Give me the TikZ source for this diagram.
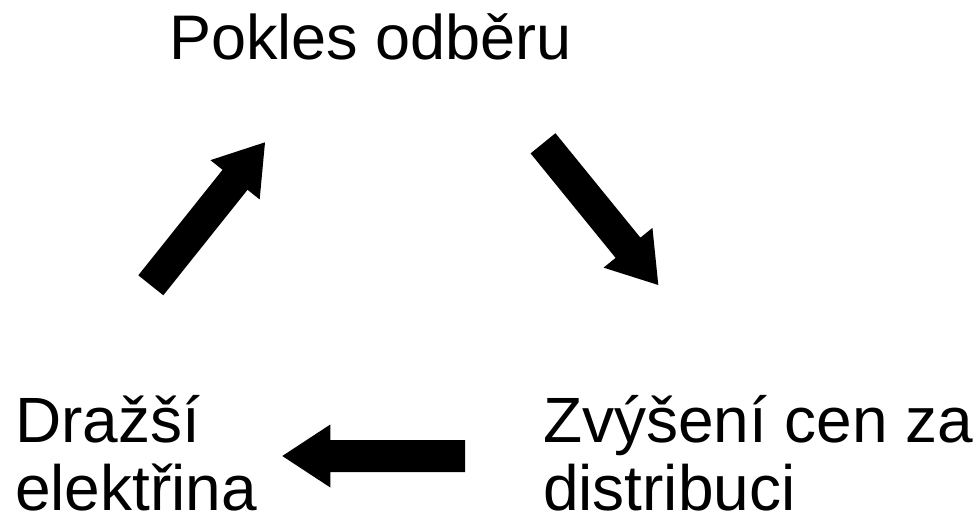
\documentclass[tikz,border=0pt]{standalone}
\usepackage{fontspec}
\setmainfont{Liberation Sans}
\usetikzlibrary{calc}
\newcommand\fatarrow[2]{%
  \path ($(#2)!48pt!(#1)$) coordinate (fatH);
  \fill[black] ($(#1)!16pt!90:(#2)$) -- ($(fatH)!16pt!90:(#2)$) -- ($(fatH)!31.5pt!90:(#2)$)
    -- (#2) -- ($(fatH)!31.5pt!-90:(#2)$) -- ($(fatH)!16pt!-90:(#2)$) -- ($(#1)!16pt!-90:(#2)$) -- cycle;
}
\tikzset{lbl/.style={inner sep=0pt, outer sep=0pt, anchor=base west, font=\fontsize{64}{68}\selectfont}}
\begin{document}
\begin{tikzpicture}[x=1pt,y=-1pt]
\useasboundingbox[fill=white] (0,0) rectangle (979,518);
\node[lbl, font=\fontsize{63}{68}\selectfont] (top) at (169,60) {Pokles odběru};
\node[lbl] (left) at (15,442) {\parbox[t]{300pt}{\baselineskip=68pt Dražší\\elektřina}};
\node[lbl] (right) at (543,442) {\parbox[t]{440pt}{\baselineskip=68pt Zvýšení cen za\\distribuci}};
\coordinate (a1s) at (150.8,285.3);
\coordinate (a1e) at (265,142.3);
\coordinate (a2s) at (543,143.3);
\coordinate (a2e) at (658.3,285);
\coordinate (a3s) at (465,456);
\coordinate (a3e) at (282.3,456);
\fatarrow{a1s}{a1e}
\fatarrow{a2s}{a2e}
\fatarrow{a3s}{a3e}
\end{tikzpicture}
\end{document}
